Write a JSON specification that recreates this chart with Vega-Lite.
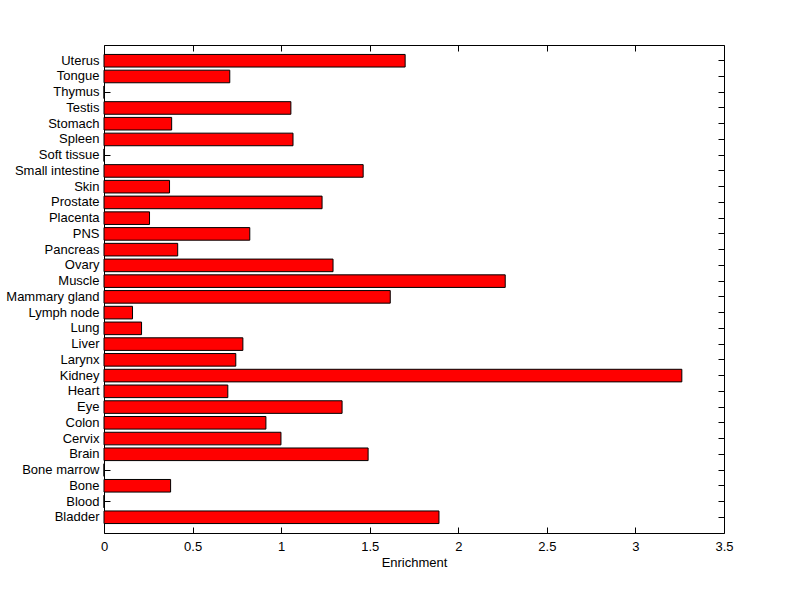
{
  "$schema": "https://vega.github.io/schema/vega-lite/v6.json",
  "autosize": "none",
  "width": 620,
  "height": 488,
  "padding": {"left": 104, "top": 45, "right": 76, "bottom": 66},
  "background": "white",
  "config": {
    "view": {"stroke": "black", "strokeWidth": 1},
    "axis": {
      "labelFont": "Liberation Sans",
      "labelFontSize": 13,
      "labelColor": "black",
      "titleFont": "Liberation Sans",
      "titleFontSize": 13,
      "titleFontWeight": "normal",
      "titleColor": "black",
      "tickColor": "black",
      "domain": false,
      "grid": false
    }
  },
  "data": {
    "values": [
      {"tissue": "Uterus", "enrichment": 1.70},
      {"tissue": "Tongue", "enrichment": 0.710},
      {"tissue": "Thymus", "enrichment": 0},
      {"tissue": "Testis", "enrichment": 1.055},
      {"tissue": "Stomach", "enrichment": 0.382},
      {"tissue": "Spleen", "enrichment": 1.067},
      {"tissue": "Soft tissue", "enrichment": 0},
      {"tissue": "Small intestine", "enrichment": 1.463},
      {"tissue": "Skin", "enrichment": 0.370},
      {"tissue": "Prostate", "enrichment": 1.231},
      {"tissue": "Placenta", "enrichment": 0.257},
      {"tissue": "PNS", "enrichment": 0.823},
      {"tissue": "Pancreas", "enrichment": 0.416},
      {"tissue": "Ovary", "enrichment": 1.293},
      {"tissue": "Muscle", "enrichment": 2.265},
      {"tissue": "Mammary gland", "enrichment": 1.616},
      {"tissue": "Lymph node", "enrichment": 0.161},
      {"tissue": "Lung", "enrichment": 0.212},
      {"tissue": "Liver", "enrichment": 0.784},
      {"tissue": "Larynx", "enrichment": 0.744},
      {"tissue": "Kidney", "enrichment": 3.262},
      {"tissue": "Heart", "enrichment": 0.699},
      {"tissue": "Eye", "enrichment": 1.344},
      {"tissue": "Colon", "enrichment": 0.914},
      {"tissue": "Cervix", "enrichment": 0.999},
      {"tissue": "Brain", "enrichment": 1.491},
      {"tissue": "Bone marrow", "enrichment": 0},
      {"tissue": "Bone", "enrichment": 0.376},
      {"tissue": "Blood", "enrichment": 0},
      {"tissue": "Bladder", "enrichment": 1.891}
    ]
  },
  "layer": [
    {
      "mark": {"type": "bar", "fill": "#ff0000", "stroke": "black", "strokeWidth": 1},
      "encoding": {
        "y": {
          "field": "tissue",
          "type": "nominal",
          "sort": ["Uterus","Tongue","Thymus","Testis","Stomach","Spleen","Soft tissue","Small intestine","Skin","Prostate","Placenta","PNS","Pancreas","Ovary","Muscle","Mammary gland","Lymph node","Lung","Liver","Larynx","Kidney","Heart","Eye","Colon","Cervix","Brain","Bone marrow","Bone","Blood","Bladder"],
          "scale": {"paddingInner": 0.2, "paddingOuter": 0.6},
          "axis": {"orient": "left", "title": null, "tickSize": -6, "labelPadding": 11}
        },
        "x": {
          "field": "enrichment",
          "type": "quantitative",
          "scale": {"domain": [0, 3.5], "nice": false, "zero": true},
          "axis": {"orient": "bottom", "title": "Enrichment", "values": [0, 0.5, 1, 1.5, 2, 2.5, 3, 3.5], "format": "~g", "tickSize": -6, "labelPadding": 13, "titlePadding": 3, "labelFlush": false}
        }
      }
    },
    {
      "mark": {"type": "point", "opacity": 0},
      "encoding": {
        "y": {
          "field": "tissue",
          "type": "nominal",
          "sort": ["Uterus","Tongue","Thymus","Testis","Stomach","Spleen","Soft tissue","Small intestine","Skin","Prostate","Placenta","PNS","Pancreas","Ovary","Muscle","Mammary gland","Lymph node","Lung","Liver","Larynx","Kidney","Heart","Eye","Colon","Cervix","Brain","Bone marrow","Bone","Blood","Bladder"],
          "axis": {"orient": "right", "title": null, "labels": false, "tickSize": -6}
        },
        "x": {
          "field": "enrichment",
          "type": "quantitative",
          "axis": {"orient": "top", "title": null, "labels": false, "values": [0, 0.5, 1, 1.5, 2, 2.5, 3, 3.5], "tickSize": -6}
        }
      }
    }
  ],
  "resolve": {"axis": {"x": "independent", "y": "independent"}}
}
